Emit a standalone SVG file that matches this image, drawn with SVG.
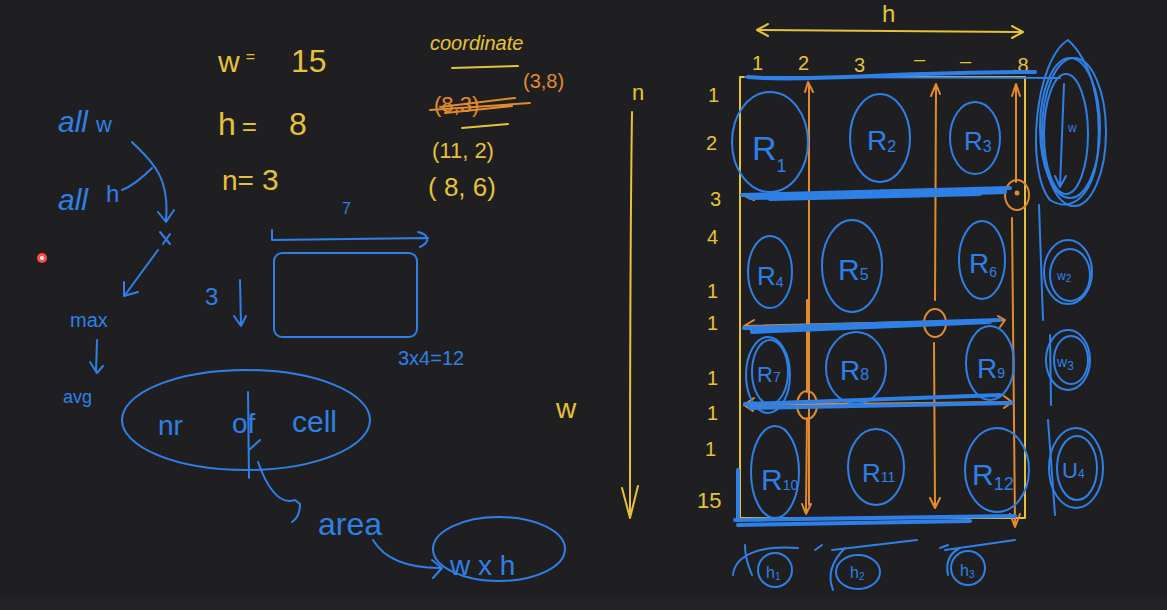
<svg xmlns="http://www.w3.org/2000/svg" width="1167" height="610" viewBox="0 0 1167 610">
<defs>
<style>
.y{fill:none;stroke:#e6c23a;stroke-width:2;stroke-linecap:round;stroke-linejoin:round}
.b{fill:none;stroke:#2f80e6;stroke-width:2;stroke-linecap:round;stroke-linejoin:round}
.bt{fill:none;stroke:#2f80e6;stroke-width:4;stroke-linecap:round}
.o{fill:none;stroke:#e38a2f;stroke-width:2;stroke-linecap:round;stroke-linejoin:round}
.ty{fill:#e6c23a;font-family:"Liberation Sans",sans-serif}
.tb{fill:#2f80e6;font-family:"Liberation Sans",sans-serif}
.to{fill:#e38a2f;font-family:"Liberation Sans",sans-serif}
</style>
</defs>
<rect width="1167" height="610" fill="#1f1f21"/>
<rect y="597" width="1167" height="13" fill="#232325"/>
<circle cx="42" cy="258" r="5" fill="#ff4a4a"/>
<circle cx="42" cy="258" r="2" fill="#fff"/>

<g id="vars">
<text class="ty" x="218" y="72" font-size="30">w<tspan font-size="16" dx="6" dy="-10">=</tspan><tspan font-size="32" dx="36" dy="10">15</tspan></text>
<text class="ty" x="218" y="135" font-size="32">h<tspan font-size="26" dx="6">=</tspan><tspan dx="32">8</tspan></text>
<text class="ty" x="222" y="190" font-size="28">n=<tspan font-size="30" dx="8">3</tspan></text>
</g>
<g id="coords">
<text class="ty" x="430" y="50" font-size="20" font-style="italic">coordinate</text>
<path class="y" d="M452 68 L518 66"/>
<text class="to" x="523" y="88" font-size="20">(3,8)</text>
<text class="to" x="434" y="112" font-size="22">(8,3)</text>
<path class="o" d="M430 110 L530 103 M440 107 L515 98 M445 113 L512 106"/>
<path class="y" d="M462 128 L508 124"/>
<text class="ty" x="432" y="158" font-size="22">(11, 2)</text>
<text class="ty" x="428" y="196" font-size="26">( 8, 6)</text>
</g>

<g id="flow">
<text class="tb" x="58" y="132" font-size="30" font-style="italic">all<tspan font-size="22" font-style="normal" dx="8">w</tspan></text>
<text class="tb" x="58" y="210" font-size="30" font-style="italic">all<tspan font-size="24" font-style="normal" dx="18" dy="-8">h</tspan></text>
<text class="tb" x="70" y="327" font-size="20">max</text>
<text class="tb" x="63" y="403" font-size="18">avg</text>
<text class="tb" x="158" y="435" font-size="28">nr</text>
<text class="tb" x="232" y="433" font-size="28">of</text>
<text class="tb" x="292" y="432" font-size="30">cell</text>
<text class="tb" x="318" y="535" font-size="32">area</text>
<text class="tb" x="450" y="575" font-size="28">w x h</text>
<text class="tb" x="398" y="365" font-size="20">3x4=12</text>
<text class="tb" x="205" y="305" font-size="24">3</text>
<text class="tb" x="342" y="214" font-size="16">7</text>
</g>

<g id="connectors">
<path class="b" d="M132 142 C 150 160 170 175 166 220 M158 212 L166 222 L174 210"/>
<path class="b" d="M122 190 C 135 185 145 175 152 168"/>
<path class="b" d="M160 232 L170 244 M163 244 L170 234"/>
<path class="b" d="M158 250 L125 295 M124 282 L124 296 L138 292"/>
<path class="b" d="M97 340 L96 372 M90 362 L97 373 L103 366"/>
<path class="b" d="M248 392 L249 478 M249 450 L260 440"/>
<path class="b" d="M258 462 C 268 490 280 505 295 500 L300 504 C 300 515 295 520 292 522"/>
<path class="b" d="M373 540 C 385 560 410 568 440 568 M432 560 L442 568 L433 578"/>
<path class="b" d="M272 230 L272 240 L428 238 M418 232 C430 235 430 242 420 247"/>
<path class="b" d="M240 280 L241 325 M234 316 L241 326 L246 316"/>
<text class="ty" x="556" y="418" font-size="28">w</text>
<text class="ty" x="632" y="100" font-size="22">n</text>
<path class="y" d="M632 112 C 630 250 630 400 630 518 M622 488 L630 518 L638 486"/>
<path class="y" d="M760 30 L1022 32 M768 24 L757 30 L768 36 M1012 26 L1023 32 L1012 38"/>
</g>

<g id="grid">
<rect class="y" x="740" y="77" width="285" height="441" stroke-width="1.5"/>
<text class="ty" x="882" y="22" font-size="24">h</text>
<g class="ty" font-size="20">
<text x="752" y="70">1</text><text x="798" y="70">2</text><text x="854" y="72">3</text>
<text x="914" y="66">–</text><text x="960" y="68">–</text><text x="1012" y="72">.8</text>
<text x="708" y="102">1</text><text x="706" y="150">2</text><text x="710" y="206">3</text>
<text x="707" y="244">4</text><text x="707" y="298">1</text><text x="707" y="330">1</text>
<text x="707" y="385">1</text><text x="707" y="420">1</text><text x="705" y="456">1</text>
<text x="697" y="508" font-size="22">15</text>
</g>
<path class="o" d="M809 85 L809 505 M805 92 L808 82 L813 92"/>
<path class="o" d="M936 88 L935 300 M931 96 L936 84 L940 94 M934 343 L935 505 M930 498 L935 508 L940 498"/>
<path class="o" d="M1016 88 L1016 182 M1012 96 L1016 84 L1020 96 M1012 218 L1015 525 M1010 514 L1015 527 L1020 514"/>
<path class="o" d="M807 300 L807 392 M807 418 L806 512 M802 504 L806 514 L811 504"/>
<ellipse class="o" cx="1017" cy="195" rx="12" ry="15"/><circle cx="1017" cy="193" r="2.5" fill="#e38a2f"/>
<ellipse class="o" cx="935" cy="323" rx="11" ry="14"/><circle cx="935" cy="322" r="2" fill="#e38a2f"/>
<ellipse class="o" cx="807" cy="405" rx="10" ry="14"/><circle cx="807" cy="404" r="2" fill="#e38a2f"/>
<path class="o" d="M746 196 L1005 193 M754 200 L745 196 M745 326 L1004 320 M754 320 L744 326 L753 331 M998 316 L1005 320 L1000 327 M745 405 L1012 402 M754 398 L744 405 L753 411 M1004 396 L1012 402 L1004 408"/>
<path class="bt" d="M748 77 C 800 82 900 72 1035 72" stroke-width="2"/>
<path class="b" d="M745 77 L1060 78"/>
<path class="bt" d="M742 195 L1010 188 M750 198 L1005 192 M770 199 L980 194" stroke-width="3"/>
<path class="bt" d="M744 328 L1000 320 M752 332 L990 322" stroke-width="3"/>
<path class="bt" d="M745 404 L1000 395 M750 408 L1012 403" stroke-width="3"/>
<path class="bt" d="M735 520 L1015 516 M738 525 L970 521" stroke-width="3"/>
<path class="bt" d="M738 470 L738 518" stroke-width="3"/>
</g>

<g id="R1"><ellipse class="b" cx="770" cy="142" rx="38" ry="50"/><text class="tb" x="752" y="160" font-size="34">R<tspan font-size="18" dy="12">1</tspan></text></g>
<g id="R2"><ellipse class="b" cx="880" cy="138" rx="30" ry="44"/><text class="tb" x="867" y="150" font-size="28">R<tspan font-size="16" dy="2">2</tspan></text></g>
<g id="R3"><ellipse class="b" cx="975" cy="138" rx="25" ry="36"/><text class="tb" x="964" y="150" font-size="26">R<tspan font-size="16" dy="2">3</tspan></text></g>
<g id="R4"><ellipse class="b" cx="770" cy="272" rx="22" ry="36"/><text class="tb" x="757" y="285" font-size="26">R<tspan font-size="14" dy="2">4</tspan></text></g>
<g id="R5"><ellipse class="b" cx="852" cy="266" rx="30" ry="46"/><text class="tb" x="838" y="280" font-size="30">R<tspan font-size="16">5</tspan></text></g>
<g id="R6"><ellipse class="b" cx="982" cy="260" rx="23" ry="39"/><text class="tb" x="969" y="273" font-size="28">R<tspan font-size="14" dy="4">6</tspan></text></g>
<g id="R7"><ellipse class="b" cx="768" cy="375" rx="22" ry="38"/><ellipse class="b" cx="770" cy="372" rx="18" ry="32"/><text class="tb" x="757" y="382" font-size="22">R<tspan font-size="14">7</tspan></text></g>
<g id="R8"><ellipse class="b" cx="856" cy="368" rx="30" ry="36"/><text class="tb" x="840" y="380" font-size="28">R<tspan font-size="16">8</tspan></text></g>
<g id="R9"><ellipse class="b" cx="990" cy="363" rx="24" ry="37"/><text class="tb" x="977" y="378" font-size="28">R<tspan font-size="14">9</tspan></text></g>
<g id="R10"><ellipse class="b" cx="775" cy="472" rx="24" ry="46"/><text class="tb" x="761" y="490" font-size="30">R<tspan font-size="14">10</tspan></text></g>
<g id="R11"><ellipse class="b" cx="876" cy="467" rx="28" ry="38"/><text class="tb" x="862" y="482" font-size="26">R<tspan font-size="14">11</tspan></text></g>
<g id="R12"><ellipse class="b" cx="997" cy="470" rx="32" ry="42"/><text class="tb" x="972" y="485" font-size="30">R<tspan font-size="18" dy="5">12</tspan></text></g>

<g id="W1"><path class="b" d="M1068 40 C 1035 60 1025 170 1050 200 C 1075 215 1095 190 1098 150 C 1102 100 1090 60 1068 40 Z"/><ellipse class="b" cx="1070" cy="128" rx="30" ry="70"/><ellipse class="b" cx="1074" cy="132" rx="32" ry="74"/><ellipse class="b" cx="1066" cy="134" rx="22" ry="60"/><path class="b" d="M1064 84 L1060 186 M1055 176 L1060 187 L1066 176"/><text class="tb" x="1068" y="132" font-size="12">w</text></g>
<g id="W2"><ellipse class="b" cx="1068" cy="272" rx="24" ry="32"/><ellipse class="b" cx="1070" cy="275" rx="20" ry="26"/><text class="tb" x="1057" y="280" font-size="12">w<tspan font-size="10" dy="2">2</tspan></text><path class="b" d="M1039 205 L1043 320"/></g>
<g id="W3"><ellipse class="b" cx="1068" cy="360" rx="22" ry="30"/><ellipse class="b" cx="1071" cy="360" rx="17" ry="24"/><text class="tb" x="1057" y="367" font-size="14">w<tspan font-size="12" dy="3">3</tspan></text><path class="b" d="M1050 335 L1051 405"/></g>
<g id="W4"><ellipse class="b" cx="1076" cy="468" rx="27" ry="40"/><ellipse class="b" cx="1077" cy="468" rx="20" ry="32"/><text class="tb" x="1062" y="478" font-size="22">U<tspan font-size="12">4</tspan></text><path class="b" d="M1048 420 L1055 515"/></g>

<g id="H1"><ellipse class="b" cx="775" cy="570" rx="17" ry="17"/><text class="tb" x="766" y="578" font-size="16">h<tspan font-size="10" dy="2">1</tspan></text><path class="b" d="M733 575 C 735 555 760 545 798 548 M745 545 C 745 560 750 570 752 575"/></g>
<g id="H2"><ellipse class="b" cx="858" cy="572" rx="22" ry="17"/><text class="tb" x="850" y="578" font-size="16">h<tspan font-size="10" dy="2">2</tspan></text><path class="b" d="M832 550 L917 540 M815 550 L822 545 M833 590 C 825 570 838 555 845 548"/></g>
<g id="H3"><ellipse class="b" cx="968" cy="568" rx="17" ry="17"/><text class="tb" x="960" y="576" font-size="16">h<tspan font-size="10" dy="2">3</tspan></text><path class="b" d="M945 550 L1015 540 M940 548 L948 545 M948 575 C 945 560 952 552 960 548"/></g>

<g id="nocell"><ellipse class="b" cx="246" cy="420" rx="124" ry="50"/></g>
<g id="wxh"><ellipse class="b" cx="499" cy="549" rx="66" ry="32"/></g>
<g id="rect7x3"><rect class="b" x="274" y="253" width="143" height="84" rx="8"/></g>
</svg>
